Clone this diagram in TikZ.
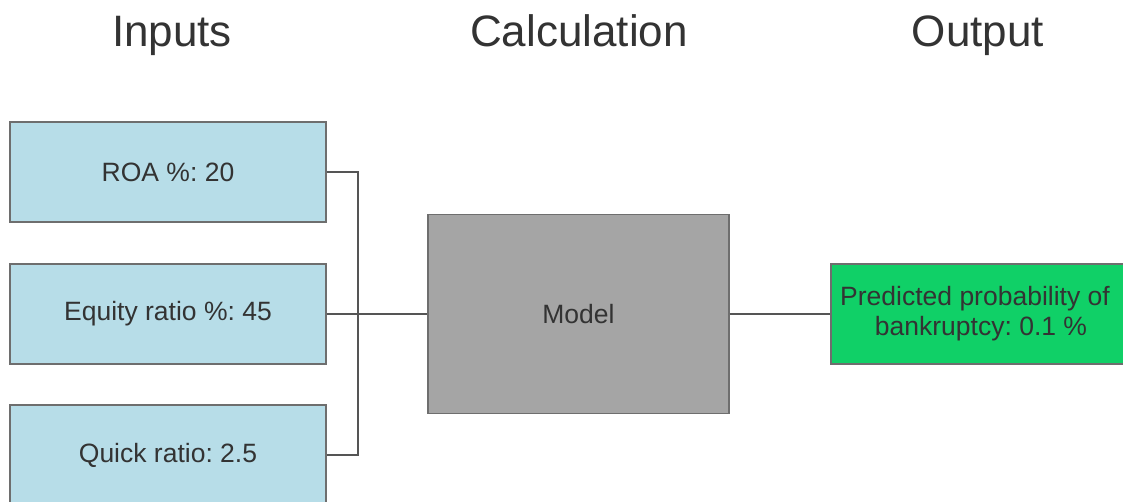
\documentclass[tikz,border=0pt]{standalone}
\usepackage{fontspec}
\setmainfont{Liberation Sans}
\frenchspacing
\definecolor{inblue}{RGB}{183,221,232}
\definecolor{modelgray}{RGB}{165,165,165}
\definecolor{outgreen}{RGB}{16,208,103}
\definecolor{edgegray}{RGB}{110,110,110}
\definecolor{wiregray}{RGB}{85,85,85}
\definecolor{txt}{RGB}{51,51,51}
\begin{document}
\begin{tikzpicture}[x=1pt,y=-1pt,
  heading/.style={text=txt,font=\fontsize{44}{52}\selectfont,inner sep=0pt,anchor=base},
  block/.style={draw=edgegray,line width=1.4pt,rectangle,inner sep=0pt,
    text=txt,font=\fontsize{26.5}{30}\selectfont\frenchspacing,align=center},
  inbox/.style={block,fill=inblue,minimum width=316pt,minimum height=100pt},
  wire/.style={draw=wiregray,line width=1.4pt}]
  \path[use as bounding box] (0,0) rectangle (1123,502);
  \clip (0,0) rectangle (1123,502);
  \fill[white] (0,0) rectangle (1123,502);

  % column headings
  \node[heading] (hin) at (172,47) {Inputs};
  \node[heading] (hcalc) at (579,47) {Calculation};
  \node[heading] (hout) at (978,47) {Output};

  % input boxes
  \node[inbox] (roa) at (168,172) {ROA \%: 20};
  \node[inbox] (equity) at (168,314) {Equity ratio \%: 45};
  \node[inbox] (quick) at (168,455) {Quick ratio: 2.5};

  % model and result
  \node[block,fill=modelgray,minimum width=301pt,minimum height=199pt] (model) at (578.5,314) {Model};
  \node[block,fill=outgreen,minimum width=300pt,minimum height=100pt] (out) at (981,314)
    {Predicted probability of\hspace*{12pt}\\bankruptcy: 0.1 \%};

  % connectors
  \coordinate (bus) at (358,0);
  \draw[wire] (roa.east) -| (bus |- quick.east) -- (quick.east);
  \draw[wire] (equity.east) -- (model.west);
  \draw[wire] (model.east) -- (out.west);
\end{tikzpicture}
\end{document}
